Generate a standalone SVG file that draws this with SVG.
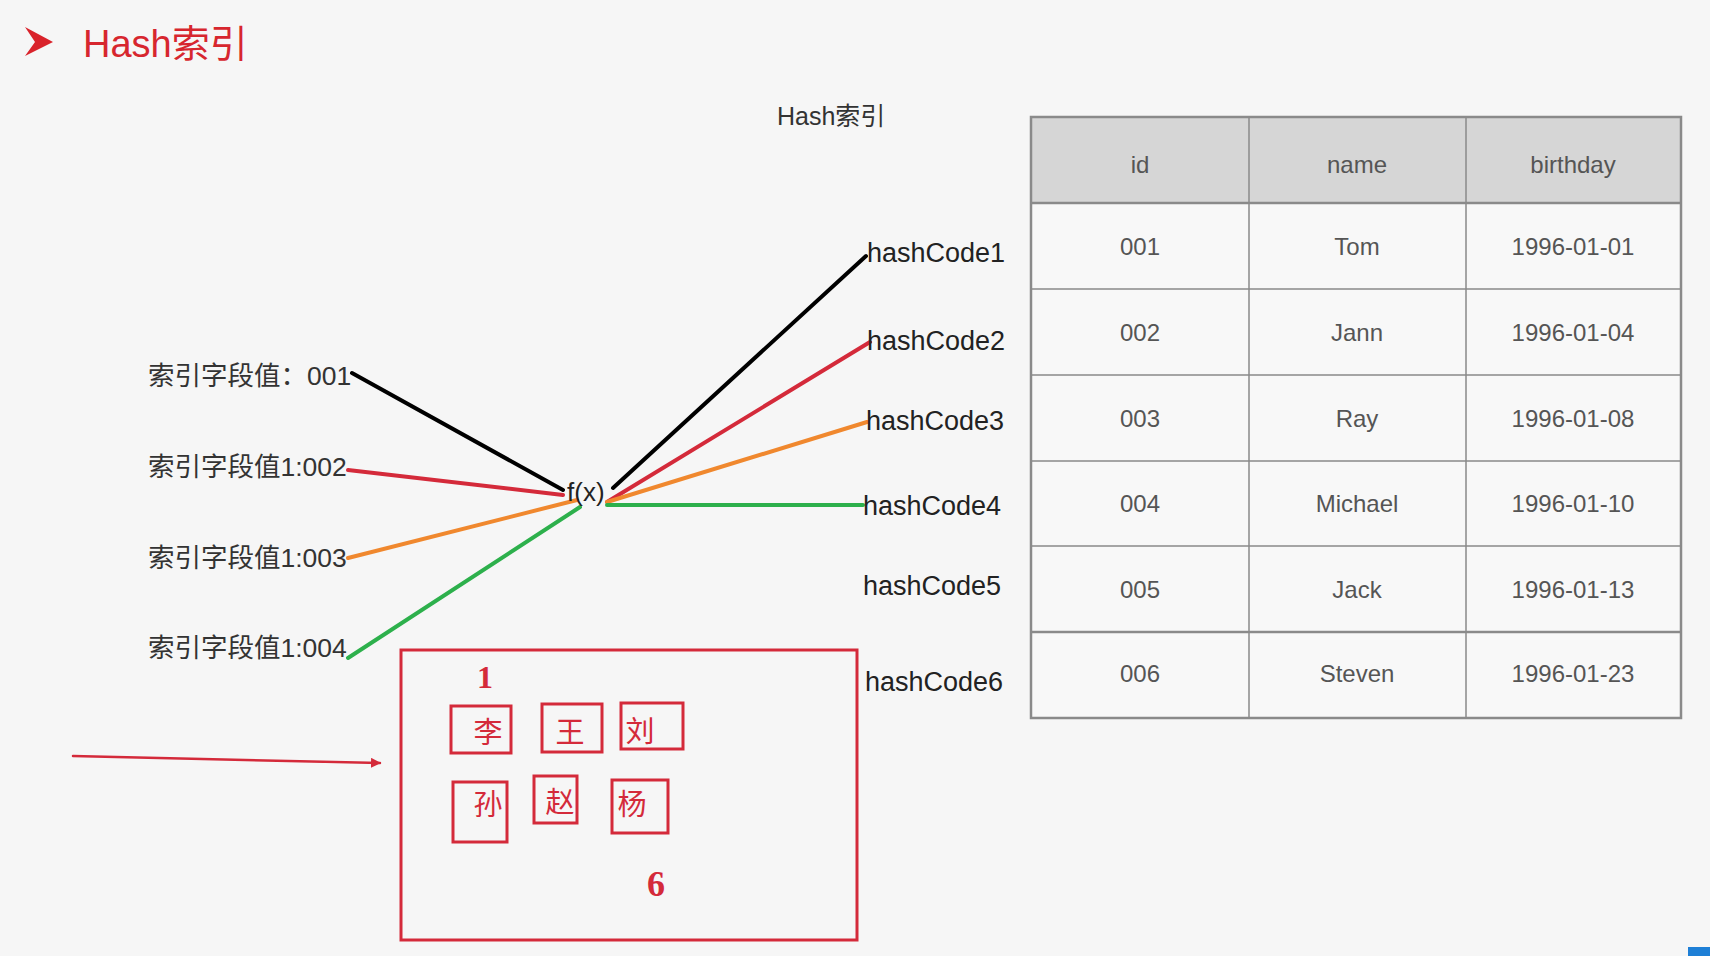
<svg xmlns="http://www.w3.org/2000/svg" width="1710" height="956" viewBox="0 0 1710 956">
<defs>
<style>
.t{font-family:"Liberation Sans","Noto Sans CJK SC",sans-serif;fill:#333}
.lab{font-size:26.5px}
.hc{font-size:27px;fill:#222}
.cell{font-family:"Liberation Sans","Noto Sans CJK SC",sans-serif;font-size:24px;fill:#555;text-anchor:middle;dominant-baseline:central}
.red{fill:none;stroke:#d42a3a;stroke-width:3}
.rc{font-family:"Liberation Sans","Noto Sans CJK SC",sans-serif;font-size:29px;fill:#d42a3a;text-anchor:middle;dominant-baseline:central}
.num{font-family:"Liberation Serif",serif;font-weight:bold;fill:#d42a3a;text-anchor:middle}
.grid{stroke:#8a8a8a;stroke-width:1.5}
</style>
<marker id="ah" markerWidth="10" markerHeight="10" refX="9" refY="5" orient="auto" markerUnits="userSpaceOnUse">
<path d="M0,0 L10,5 L0,10 Z" fill="#d42a3a"/>
</marker>
</defs>
<rect width="1710" height="956" fill="#f6f6f6"/>
<g id="title">
<polygon points="25,27 53,42 25,56 35,42" fill="#d9232b"/>
<text x="83" y="57" class="t" style="font-size:38px;fill:#d7262e">Hash索引</text>
</g>
<g id="subtitle"><text x="777" y="125" class="t" style="font-size:25px">Hash索引</text></g>
<g id="connectors" stroke-linecap="round" fill="none" stroke-width="4">
<line x1="352" y1="373" x2="563" y2="490" stroke="#000"/>
<line x1="348" y1="470" x2="563" y2="495" stroke="#d42a3a"/>
<line x1="348" y1="558" x2="577" y2="500" stroke="#f0882e"/>
<line x1="348" y1="658" x2="580" y2="507" stroke="#2db04c"/>
<line x1="613" y1="488" x2="866" y2="256" stroke="#000"/>
<line x1="607" y1="502" x2="870" y2="342" stroke="#d42a3a"/>
<line x1="607" y1="502" x2="867" y2="422" stroke="#f0882e"/>
<line x1="607" y1="505" x2="863" y2="505" stroke="#2db04c"/>
<line x1="73" y1="756" x2="380" y2="763" stroke="#d42a3a" stroke-width="2.5" marker-end="url(#ah)"/>
</g>
<g id="inputs">
<text x="148" y="385" class="t lab">索引字段值：001</text>
<text x="148" y="476" class="t lab">索引字段值1:002</text>
<text x="148" y="567" class="t lab">索引字段值1:003</text>
<text x="148" y="657" class="t lab">索引字段值1:004</text>
</g>
<g id="fx"><text x="567" y="501" class="t" style="font-size:26px;fill:#222">f(x)</text></g>
<g id="hashcodes">
<text x="867" y="262" class="t hc">hashCode1</text>
<text x="867" y="350" class="t hc">hashCode2</text>
<text x="866" y="430" class="t hc">hashCode3</text>
<text x="863" y="515" class="t hc">hashCode4</text>
<text x="863" y="595" class="t hc">hashCode5</text>
<text x="865" y="691" class="t hc">hashCode6</text>
</g>
<g id="table">
<rect x="1031" y="117" width="650" height="86" fill="#d6d6d6"/>
<rect x="1031" y="203" width="650" height="515" fill="#f8f8f8"/>
<g class="grid">
<line x1="1031" y1="203" x2="1681" y2="203" stroke-width="2.5"/>
<line x1="1031" y1="289" x2="1681" y2="289"/>
<line x1="1031" y1="375" x2="1681" y2="375"/>
<line x1="1031" y1="461" x2="1681" y2="461"/>
<line x1="1031" y1="546" x2="1681" y2="546"/>
<line x1="1031" y1="632" x2="1681" y2="632" stroke-width="2.5"/>
<line x1="1249" y1="117" x2="1249" y2="718"/>
<line x1="1466" y1="117" x2="1466" y2="718"/>
</g>
<rect x="1031" y="117" width="650" height="601" fill="none" stroke="#8a8a8a" stroke-width="2.5"/>
<text x="1140" y="164" class="cell">id</text>
<text x="1357" y="164" class="cell">name</text>
<text x="1573" y="164" class="cell">birthday</text>
<text x="1140" y="246" class="cell">001</text>
<text x="1357" y="246" class="cell">Tom</text>
<text x="1573" y="246" class="cell">1996-01-01</text>
<text x="1140" y="332" class="cell">002</text>
<text x="1357" y="332" class="cell">Jann</text>
<text x="1573" y="332" class="cell">1996-01-04</text>
<text x="1140" y="418" class="cell">003</text>
<text x="1357" y="418" class="cell">Ray</text>
<text x="1573" y="418" class="cell">1996-01-08</text>
<text x="1140" y="503" class="cell">004</text>
<text x="1357" y="503" class="cell">Michael</text>
<text x="1573" y="503" class="cell">1996-01-10</text>
<text x="1140" y="589" class="cell">005</text>
<text x="1357" y="589" class="cell">Jack</text>
<text x="1573" y="589" class="cell">1996-01-13</text>
<text x="1140" y="673" class="cell">006</text>
<text x="1357" y="673" class="cell">Steven</text>
<text x="1573" y="673" class="cell">1996-01-23</text>
</g>
<g id="bucket">
<rect x="401" y="650" width="456" height="290" class="red"/>
<text x="485" y="688" class="num" style="font-size:32px">1</text>
<text x="656" y="896" class="num" style="font-size:36px">6</text>
<rect x="451" y="706" width="60" height="47" class="red"/>
<text x="488" y="733" class="rc">李</text>
<rect x="542" y="704" width="60" height="48" class="red"/>
<text x="570" y="733" class="rc">王</text>
<rect x="621" y="703" width="62" height="46" class="red"/>
<text x="640" y="732" class="rc">刘</text>
<rect x="453" y="782" width="54" height="60" class="red"/>
<text x="488" y="805" class="rc">孙</text>
<rect x="534" y="776" width="43" height="47" class="red"/>
<text x="560" y="803" class="rc">赵</text>
<rect x="612" y="780" width="56" height="53" class="red"/>
<text x="632" y="805" class="rc">杨</text>
</g>
<rect x="1688" y="947" width="22" height="9" fill="#1e7fd6"/>
</svg>
